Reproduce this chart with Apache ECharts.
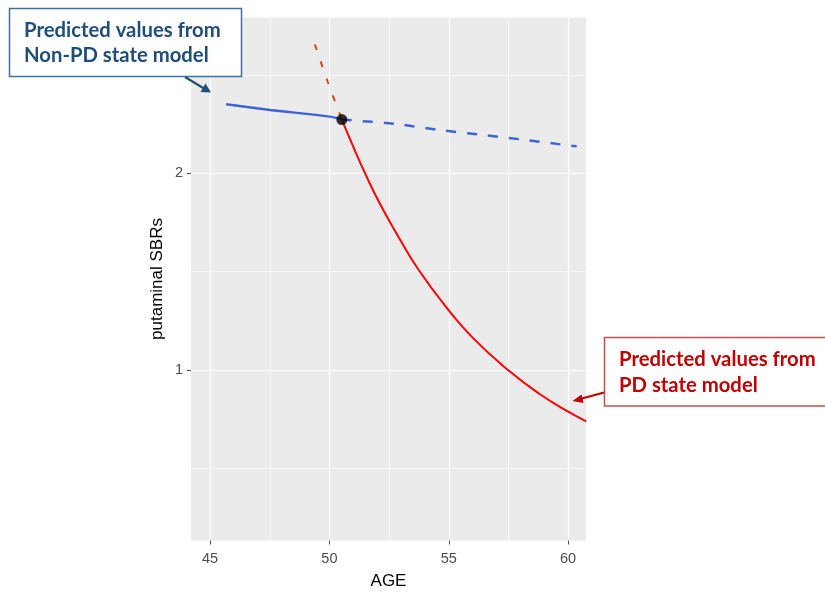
<!DOCTYPE html>
<html>
<head>
<meta charset="utf-8">
<script src="https://cdn.jsdelivr.net/npm/echarts@6/dist/echarts.min.js"></script>
<style>
  html, body { margin: 0; padding: 0; background: #fff; }
  #chart { width: 825px; height: 597px; }
</style>
</head>
<body>
<div id="chart"></div>
<script>
// Tick labels
const xTicks = [45, 50, 55, 60];
const yTicks = [1, 2];
const xMinorGrid = [47.5, 52.5, 57.5];
const yMinorGrid = [0.5, 1.5, 2.5];

// Non-PD state model: observed range (solid) and extrapolated (dashed)
const nonPdSolidAge = [45.67, 47.51, 50.02, 50.52];
const nonPdSolidSbr = [2.351, 2.322, 2.288, 2.273];
const nonPdDashAge = [50.52, 52.74, 54.62, 56.44, 58.25, 60.13, 60.36];
const nonPdDashSbr = [2.273, 2.251, 2.220, 2.195, 2.169, 2.140, 2.137];

// PD state model: backward extrapolation (dashed) and fitted curve (solid)
const pdDashAge = [49.39, 49.92, 50.52];
const pdDashSbr = [2.655, 2.468, 2.273];
const pdSolidAge = [50.52, 50.93, 51.485, 52.11, 52.95, 53.72, 54.90, 56.02, 57.55, 58.81, 60.06, 60.76];
const pdSolidSbr = [2.273, 2.155, 2.002, 1.846, 1.665, 1.512, 1.318, 1.162, 0.993, 0.878, 0.784, 0.739];

// Onset point where the two models meet
const onsetAge = [50.52];
const onsetSbr = [2.273];

const zip = (a, b) => a.map((v, i) => [v, b[i]]);

const chart = echarts.init(document.getElementById('chart'), null, { renderer: 'canvas' });

const gridLine = (axis, v, w) => ({ [axis]: v, lineStyle: { color: '#ffffff', width: w, type: 'solid' } });

const option = {
  animation: false,
  backgroundColor: '#ffffff',
  grid: { left: 191, top: 17.5, right: 239, bottom: 56.5, show: true, backgroundColor: '#EBEBEB', borderWidth: 0 },
  xAxis: {
    type: 'value', min: 44.2, max: 60.75,
    name: 'AGE', nameLocation: 'middle', nameGap: 32,
    nameTextStyle: { fontFamily: 'Liberation Sans', fontSize: 17, color: '#000' },
    axisLine: { show: false },
    axisTick: { show: true, length: 4, customValues: xTicks, lineStyle: { color: '#4D4D4D', width: 1 } },
    axisLabel: { customValues: xTicks, margin: 11, fontFamily: 'Liberation Sans', fontSize: 14.5, color: '#4D4D4D' },
    splitLine: { show: false }
  },
  yAxis: {
    type: 'value', min: 0.133, max: 2.792,
    name: 'putaminal SBRs', nameLocation: 'middle', nameGap: 25, nameRotate: 90,
    nameTextStyle: { fontFamily: 'Liberation Sans', fontSize: 17, color: '#000' },
    axisLine: { show: false },
    axisTick: { show: true, length: 4, customValues: yTicks, lineStyle: { color: '#4D4D4D', width: 1 } },
    axisLabel: { customValues: yTicks, margin: 8, fontFamily: 'Liberation Sans', fontSize: 14.5, color: '#4D4D4D' },
    splitLine: { show: false }
  },
  series: [
    {
      type: 'line', data: [], z: 0, silent: true,
      markLine: {
        z: 0, silent: true, symbol: 'none', label: { show: false }, animation: false,
        data: [
          ...xMinorGrid.map(v => gridLine('xAxis', v, 0.6)),
          ...yMinorGrid.map(v => gridLine('yAxis', v, 0.6)),
          ...xTicks.map(v => gridLine('xAxis', v, 1.2)),
          ...yTicks.map(v => gridLine('yAxis', v, 1.2))
        ]
      }
    },
    {
      type: 'line', data: zip(nonPdSolidAge, nonPdSolidSbr), z: 3, showSymbol: false, smooth: 0.3,
      lineStyle: { color: '#3F63D6', width: 2.5 }
    },
    {
      type: 'line', data: zip(nonPdDashAge, nonPdDashSbr), z: 3, showSymbol: false, smooth: 0.3,
      lineStyle: { color: '#3F63D6', width: 2.5, type: [10, 11] }
    },
    {
      type: 'line', data: zip(pdDashAge, pdDashSbr), z: 3, showSymbol: false, smooth: 0.3,
      lineStyle: { color: '#D04A12', width: 2, type: [6, 12] }
    },
    {
      type: 'line', data: zip(pdSolidAge, pdSolidSbr), z: 3, showSymbol: false, smooth: 0.5,
      lineStyle: { color: '#FF0000', width: 2 }
    },
    {
      type: 'scatter', data: zip(onsetAge, onsetSbr), z: 5, symbolSize: 11,
      itemStyle: { color: '#000000' }
    }
  ],
  graphic: [
    // Non-PD annotation
    { type: 'rect', shape: { x: 9.5, y: 8.5, width: 232, height: 68 }, style: { fill: '#ffffff', stroke: '#41719C', lineWidth: 1.5 }, z: 10 },
    { type: 'text', x: 24, y: 30.5, style: { text: 'Predicted values from', font: 'bold 20.3px Lato', fill: '#1F4E79', verticalAlign: 'middle' }, z: 11 },
    { type: 'text', x: 24, y: 55.5, style: { text: 'Non-PD state model', font: 'bold 20.3px Lato', fill: '#1F4E79', verticalAlign: 'middle' }, z: 11 },
    { type: 'line', shape: { x1: 185, y1: 77, x2: 204, y2: 88.5 }, style: { stroke: '#1F4E79', lineWidth: 2.2 }, z: 10 },
    { type: 'polygon', shape: { points: [[211, 92.5], [200.5, 92], [205.5, 83.5]] }, style: { fill: '#1F4E79' }, z: 10 },
    // PD annotation
    { type: 'rect', shape: { x: 604.5, y: 337.5, width: 240, height: 68.5 }, style: { fill: '#ffffff', stroke: '#C0504D', lineWidth: 1.5 }, z: 10 },
    { type: 'text', x: 619, y: 359, style: { text: 'Predicted values from', font: 'bold 20.3px Lato', fill: '#C00000', verticalAlign: 'middle' }, z: 11 },
    { type: 'text', x: 619, y: 385.5, style: { text: 'PD state model', font: 'bold 20.3px Lato', fill: '#C00000', verticalAlign: 'middle' }, z: 11 },
    { type: 'line', shape: { x1: 604, y1: 392.5, x2: 580, y2: 399 }, style: { stroke: '#C00000', lineWidth: 2.2 }, z: 10 },
    { type: 'polygon', shape: { points: [[572.5, 401], [581.5, 394.5], [583.5, 403]] }, style: { fill: '#C00000' }, z: 10 }
  ]
};

chart.setOption(option);
</script>
</body>
</html>
